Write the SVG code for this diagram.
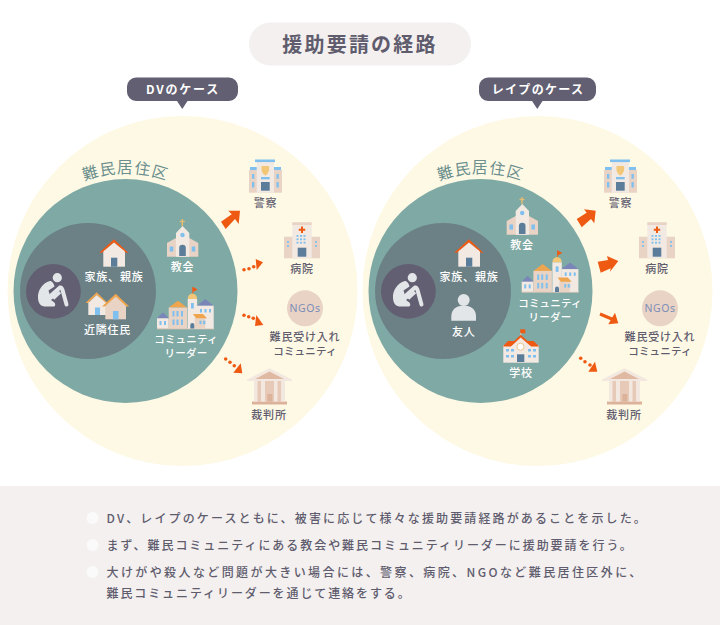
<svg xmlns="http://www.w3.org/2000/svg" width="720" height="625" viewBox="0 0 720 625">
<style>
text{font-family:"Noto Sans CJK JP","Noto Sans",sans-serif;text-anchor:middle;font-size:11px;letter-spacing:.8px;font-weight:500}
.d{fill:#5f5c6e}.w{fill:#fff}
.tag{fill:#fff;font-size:12px;font-weight:700;letter-spacing:1.3px}
.n{font-size:10.5px;letter-spacing:.2px}
.b{fill:#5f5c6e;font-size:12px;letter-spacing:1.95px;text-anchor:start}
.zone{fill:#6b8f8d;font-size:15.5px;letter-spacing:1.3px;font-weight:400}
.ngo{font-size:10.5px;fill:#7d8eb8;letter-spacing:.5px;font-family:"Noto Sans",sans-serif;font-weight:400}
.o{fill:#ef5a13}.c{fill:#f2e9e3}.t{fill:#e8d3c5}.s{fill:#7fc0ee}.l{fill:#5b7d99}.m{fill:#efa54e}.p{fill:#7a86b8}
</style>
<defs>
<g id="i-police">
<rect class="t" x="249" y="170" width="33" height="22.7"/>
<rect class="s" x="250" y="167" width="31" height="3"/>
<rect class="c" x="256.7" y="162" width="17.3" height="30.7"/>
<rect class="s" x="255" y="159.5" width="20" height="2.6"/>
<path d="M261.5 166h7.6v4.5q-1 3.6-3.8 4.9q-2.8-1.3-3.8-4.9z" fill="#f3c778"/>
<rect class="s" x="252" y="174" width="2.3" height="4.8"/><rect class="s" x="252" y="182" width="2.3" height="5.5"/>
<rect class="s" x="276.5" y="174" width="2.3" height="4.8"/><rect class="s" x="276.5" y="182" width="2.3" height="5.5"/>
<rect class="s" x="261" y="177" width="8.7" height="2.3"/>
<rect class="l" x="261" y="182" width="8.7" height="8.7"/>
</g>
<g id="i-hospital">
<rect class="t" x="284" y="236.7" width="36" height="21.6"/>
<rect class="c" x="292.3" y="222.3" width="19.4" height="36"/>
<rect class="t" x="292.3" y="222.3" width="19.4" height="2.7"/>
<path class="o" d="M301 226.5h2v2.2h2.2v2h-2.2v2.2h-2v-2.2h-2.2v-2h2.2z"/>
<g class="s"><rect x="296.5" y="235" width="2" height="1.8"/><rect x="300" y="235" width="2" height="1.8"/><rect x="303.5" y="235" width="2" height="1.8"/><rect x="296.5" y="238.4" width="2" height="1.8"/><rect x="300" y="238.4" width="2" height="1.8"/><rect x="303.5" y="238.4" width="2" height="1.8"/><rect x="296.5" y="241.8" width="2" height="1.8"/><rect x="300" y="241.8" width="2" height="1.8"/><rect x="303.5" y="241.8" width="2" height="1.8"/><rect x="287" y="241" width="2" height="1.8"/><rect x="287" y="245" width="2" height="1.8"/><rect x="315" y="241" width="2" height="1.8"/><rect x="315" y="245" width="2" height="1.8"/></g>
<rect class="l" x="297.7" y="247.7" width="8.6" height="9"/>
</g>
<g id="i-court">
<rect x="252" y="401.5" width="35" height="3" fill="#dcb39a"/>
<rect x="256" y="380" width="27" height="22" fill="#e6c9b6"/>
<g fill="#f3e8df"><rect x="254" y="381" width="3.500" height="20.5"/><rect x="261" y="381" width="4" height="20.500"/><rect x="274" y="381" width="3.500" height="20.500"/><rect x="281" y="381" width="4" height="20.500"/></g>
<rect x="267.3" y="394" width="5" height="7.500" fill="#dcb39a"/>
<path d="M269.500 368.300L292 379.500V381H247V379.500z" fill="#f3e8df"/>
<path d="M269.500 371.500L284 379H255z" fill="#dfb9a1"/>
</g>
<g id="i-church">
<rect x="181.6" y="219" width="1.4" height="7" fill="#e7bd72"/><rect x="179.8" y="220.8" width="5" height="1.4" fill="#e7bd72"/>
<path class="t" d="M176 238L167 243V256.7H198.3V243L189.3 238z"/>
<path class="c" d="M176 256.7V233L182.6 226L189.3 233V256.7z"/>
<circle class="s" cx="182.5" cy="235" r="2.2"/>
<rect class="s" x="169.7" y="246.5" width="3.6" height="5"/><rect class="s" x="191.7" y="246.5" width="3.6" height="5"/>
<path class="l" d="M179.2 256V248a3.3 3.3 0 0 1 6.6 0V256z"/>
</g>
<g id="i-community">
<rect x="157" y="327.8" width="57" height="1.5" fill="#d9c6b6"/>
<path class="p" d="M157 318.3L163 312.3L169 318.3z"/><rect class="c" x="157" y="318.300" width="11.7" height="10"/>
<rect class="s" x="159.500" y="321" width="2" height="4"/><rect class="s" x="164" y="321" width="2" height="4"/>
<path class="m" d="M168.700 307.500L178 300.700L187 307.500z"/>
<rect class="t" x="168.700" y="307.500" width="18.500" height="21"/>
<g class="s"><rect x="172.500" y="311" width="2" height="5.500"/><rect x="176.500" y="311" width="2" height="5.500"/><rect x="181" y="311" width="2" height="5.500"/><rect x="172.500" y="319.500" width="2" height="5.500"/><rect x="176.500" y="319.500" width="2" height="5.500"/><rect x="181" y="319.500" width="2" height="5.500"/></g>
<rect class="o" x="192.300" y="287" width=".8" height="7"/><path class="o" d="M193 287L197.700 289.500L193 292z"/>
<path d="M187.700 299a4.700 5.500 0 0 1 9.400 0z" fill="#f3c778"/>
<rect class="c" x="187.700" y="299" width="9.400" height="29.500"/>
<rect class="s" x="191" y="303" width="2.800" height="5.500"/>
<path class="p" d="M197 305.700L205.300 299L213.700 305.700z"/>
<rect class="c" x="197" y="305.700" width="16.700" height="22.800"/>
<g class="s"><rect x="200" y="309" width="2" height="3.500"/><rect x="204.500" y="309" width="2" height="3.500"/><rect x="209" y="309" width="2" height="3.500"/><rect x="200" y="320.700" width="2" height="3.500"/><rect x="203.500" y="320.700" width="2" height="3.500"/></g>
<rect class="t" x="194.700" y="318" width="10.600" height="10.500"/>
<g class="s"><rect x="199.500" y="320.700" width="2" height="3.500"/><rect x="203" y="320.700" width="2" height="3.500"/></g>
<path class="m" d="M193 314H203L207 318.300H196z"/>
<path class="l" d="M190.300 328.500V325a2 2 0 0 1 4 0V328.500z"/>
</g>
<g id="i-house">
<rect class="c" x="103.3" y="250" width="21.7" height="16.7"/>
<path class="o" d="M114 239.3L128.300 252.700L126 252.700L114 242.500L102 252.700L99.300 252.700z"/>
<path class="c" d="M114 242.500L103.300 251.500H125z"/>
<rect class="l" x="111" y="257.700" width="6.300" height="9"/>
</g>
<g id="i-person" fill="#e3e6e8">
<circle cx="57.300" cy="277.700" r="4.600"/>
<path d="M50 281C42 283 37.500 291 38 298C38.300 304 41 306.500 46 306.500H54C55.500 306.500 55.800 303.500 54 302.300L51 300L56 296V293L50 295.500L48.500 290.500L54.500 286.500C54 283.500 52 281 50 281z"/>
<path d="M51 295.500L60 287.500Q61.500 287 62.500 290L66.500 304.500" fill="none" stroke="#e3e6e8" stroke-width="4" stroke-linecap="round" stroke-linejoin="round"/>
<path d="M53 298.500L60 292" fill="none" stroke="#e3e6e8" stroke-width="3.500"/>
</g>
<g id="i-school">
<rect class="o" x="520.300" y="329.300" width="5" height="4"/><rect class="t" x="520.300" y="333" width="1" height="3"/>
<rect class="c" x="503.300" y="345" width="35.400" height="17.700"/>
<path class="o" d="M508 341H533.500L539.300 346.500H502.700z"/>
<path class="c" d="M520.700 336L531 345.500V350H511V345.500z"/>
<path class="o" d="M520.700 334.800L533 346H530.500L520.700 337.500L511.500 346H509z"/>
<circle cx="520.500" cy="346.700" r="3.500" fill="#fff" stroke="#e7bd72" stroke-width=".8"/>
<g class="s"><rect x="506" y="349" width="3" height="2.500"/><rect x="511" y="349" width="3" height="2.500"/><rect x="528" y="349" width="3" height="2.500"/><rect x="533" y="349" width="3" height="2.500"/><rect x="506" y="355" width="3" height="2.500"/><rect x="511" y="355" width="3" height="2.500"/><rect x="528" y="355" width="3" height="2.500"/><rect x="533" y="355" width="3" height="2.500"/></g>
<rect class="l" x="517" y="354.300" width="7.300" height="7.700"/>
</g>
</defs>

<rect width="720" height="625" fill="#fff"/>
<rect x="0" y="486" width="720" height="139" fill="#f3f0ef"/>

<g id="title">
<rect x="249" y="22.500" width="222" height="43" rx="21.500" fill="#f3f0ef"/>
<text class="d" x="360" y="51.500" style="font-size:20px;letter-spacing:2.200px;font-weight:700">援助要請の経路</text>
</g>

<g id="tag-dv">
<path fill="#625f72" d="M136 77.500H229a9 9 0 0 1 9 9V92a9 9 0 0 1-9 9H187.500L182.300 109L177 101H136a9 9 0 0 1-9-9V86.500a9 9 0 0 1 9-9z"/>
<text class="tag" x="183" y="93.500" style="letter-spacing:1.800px">DVのケース</text>
</g>
<g id="tag-rape">
<path fill="#625f72" d="M488 77.500H587a9 9 0 0 1 9 9V92a9 9 0 0 1-9 9H542.500L537.300 109L532 101H488a9 9 0 0 1-9-9V86.500a9 9 0 0 1 9-9z"/>
<text class="tag" x="538" y="93.500">レイプのケース</text>
</g>

<g id="area-dv">
<circle cx="182.500" cy="291" r="175" fill="#fef9e5"/>
<circle cx="125.500" cy="291" r="112" fill="#7fa9a4"/>
<circle cx="88" cy="291" r="68" fill="#6c8186"/>
<circle cx="53.400" cy="291.300" r="27.400" fill="#625f72"/>
<path id="arc1" d="M36 215A117 117 0 0 1 215 215" fill="none"/>
<text class="zone"><textPath href="#arc1" startOffset="50%">難民居住区</textPath></text>
</g>
<g id="area-rape">
<circle cx="537.500" cy="291" r="175" fill="#fef9e5"/>
<circle cx="480.500" cy="291" r="112" fill="#7fa9a4"/>
<circle cx="443" cy="291" r="68" fill="#6c8186"/>
<circle cx="408.400" cy="291.300" r="27.400" fill="#625f72"/>
<path id="arc2" d="M391 215A117 117 0 0 1 570 215" fill="none"/>
<text class="zone"><textPath href="#arc2" startOffset="50%">難民居住区</textPath></text>
</g>

<g id="connectors">
<g class="o">
<polygon points="221,221.700 231.700,214.300 228.300,210.700 240,210.700 238.700,224 235,219 225.700,229"/>
<circle cx="244" cy="269.700" r="1.800"/><circle cx="249" cy="268.700" r="1.800"/><circle cx="253.700" cy="266.700" r="1.800"/>
<polygon points="255.700,259 263,262.300 256.700,270"/>
<circle cx="244" cy="315.300" r="1.800"/><circle cx="248.700" cy="316.700" r="1.800"/><circle cx="253.300" cy="318.300" r="1.800"/>
<polygon points="256.300,315 263.300,325 255,326"/>
<circle cx="225.700" cy="359" r="1.800"/><circle cx="230" cy="362.300" r="1.800"/><circle cx="234.300" cy="365.700" r="1.800"/>
<polygon points="240.700,363.300 242.300,373.300 233.300,372.700"/>
<polygon points="576.700,219 586.700,212.700 584,209.300 595.700,210.700 594.300,223.300 591,219 581.700,227.300"/>
<polygon points="597.700,261.700 608,260 607,256 618.300,261 610,271.700 610.700,268.300 600.700,272.700"/>
<polygon points="615,312.700 618.300,323.300 608.300,324.300"/>
<circle cx="580.700" cy="358.300" r="1.800"/><circle cx="585" cy="361.700" r="1.800"/><circle cx="590" cy="365" r="1.800"/>
<polygon points="595,361.700 597.300,371.700 588.300,371.700"/>
</g>
<line x1="600" y1="314" x2="613" y2="319.500" stroke="#ef5a13" stroke-width="3"/>
</g>

<g id="n-person-dv"><use href="#i-person"/></g>
<g id="n-family-dv"><use href="#i-house"/><text class="w" x="114" y="281">家族、親族</text></g>
<g id="n-neighbors">
<rect class="c" x="88.300" y="302" width="18" height="13"/>
<path class="m" d="M96.700 292.300L107.500 303H105.500L96.700 295L88 303H85.500z"/>
<path class="c" d="M96.700 295L88.300 303H106z"/>
<rect class="s" x="95" y="307.500" width="5" height="7.500"/>
<rect class="t" x="105.300" y="304" width="20.700" height="15.300"/>
<path class="t" d="M115.700 296L105.300 305H126z"/>
<path class="m" d="M115.700 293.700L129.300 306.500H126.500L115.700 296.500L105 306.500H102z"/>
<rect class="s" x="113" y="311" width="5.500" height="8.300"/>
<text class="w" x="107.500" y="334">近隣住民</text>
</g>
<g id="n-church-dv"><use href="#i-church"/><text class="w" x="182.500" y="271">教会</text></g>
<g id="n-leader-dv"><use href="#i-community"/><text class="w n" x="186" y="343">コミュニティ</text><text class="w n" x="186" y="357">リーダー</text></g>
<g id="n-police-dv"><use href="#i-police"/><text class="d" x="265.500" y="207">警察</text></g>
<g id="n-hospital-dv"><use href="#i-hospital"/><text class="d" x="302" y="272.700">病院</text></g>
<g id="n-ngo-dv"><circle class="t" cx="305" cy="308.300" r="18"/><text class="ngo" x="305" y="312">NGOs</text>
<text class="d" x="305" y="340.700">難民受け入れ</text><text class="d n" x="305" y="354.700">コミュニティ</text></g>
<g id="n-court-dv"><use href="#i-court"/><text class="d" x="269" y="418.700">裁判所</text></g>

<g id="n-person-rape"><use href="#i-person" x="355"/></g>
<g id="n-family-rape"><use href="#i-house" x="355"/><text class="w" x="469" y="281">家族、親族</text></g>
<g id="n-friend">
<circle cx="463.700" cy="300" r="6" fill="#e3e6e8"/>
<path fill="#e3e6e8" d="M451.300 320.700V316C451.300 309.500 457 305.500 463.700 305.500S476 309.500 476 316V320.700z"/>
<text class="w" x="463.700" y="336">友人</text>
</g>
<g id="n-church-rape"><use href="#i-church" x="339.700" y="-22"/><text class="w" x="522" y="249">教会</text></g>
<g id="n-leader-rape"><use href="#i-community" x="364.700" y="-36.600"/><text class="w n" x="550" y="306.700">コミュニティ</text><text class="w n" x="550" y="320.700">リーダー</text></g>
<g id="n-school"><use href="#i-school"/><text class="w" x="521" y="377">学校</text></g>
<g id="n-police-rape"><use href="#i-police" x="355"/><text class="d" x="620.500" y="207">警察</text></g>
<g id="n-hospital-rape"><use href="#i-hospital" x="355"/><text class="d" x="657" y="272.700">病院</text></g>
<g id="n-ngo-rape"><circle class="t" cx="660" cy="308.300" r="18"/><text class="ngo" x="660" y="312">NGOs</text>
<text class="d" x="660" y="340.700">難民受け入れ</text><text class="d n" x="660" y="354.700">コミュニティ</text></g>
<g id="n-court-rape"><use href="#i-court" x="355"/><text class="d" x="624" y="418.700">裁判所</text></g>

<g id="notes">
<circle cx="92.500" cy="518" r="6" fill="#fbfafa"/>
<circle cx="92.500" cy="545" r="6" fill="#fbfafa"/>
<circle cx="92.500" cy="572" r="6" fill="#fbfafa"/>
<text class="b" x="106.500" y="523" style="letter-spacing:2.130px">DV、レイプのケースともに、被害に応じて様々な援助要請経路があることを示した。</text>
<text class="b" x="106.500" y="550">まず、難民コミュニティにある教会や難民コミュニティリーダーに援助要請を行う。</text>
<text class="b" x="106.500" y="577" style="letter-spacing:2.400px">大けがや殺人など問題が大きい場合には、警察、病院、NGOなど難民居住区外に、</text>
<text class="b" x="106.500" y="598" style="letter-spacing:1.900px">難民コミュニティリーダーを通じて連絡をする。</text>
</g>
</svg>
